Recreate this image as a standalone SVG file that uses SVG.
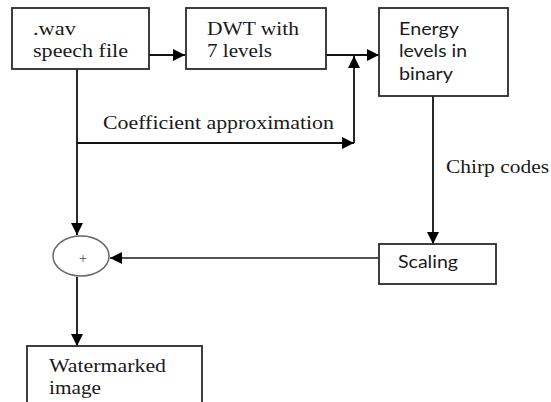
<svg xmlns="http://www.w3.org/2000/svg" width="551" height="402" viewBox="0 0 551 402">
  <style>
    .box { fill: #ffffff; stroke: #2a2a2a; stroke-width: 1.8; }
    .serif { font-family: "Liberation Serif", "Times New Roman", serif; font-size: 19.5px; fill: #1a1a1a; }
    .sans { font-family: Lato, "Liberation Sans", sans-serif; font-size: 18px; fill: #1a1a1a; }
    .wire { fill: none; stroke: #111111; stroke-width: 1.8; }
    .grey { fill: none; stroke: #555555; stroke-width: 1.8; }
  </style>
  <defs>
    <marker id="arrowBig" viewBox="0 0 10 10" refX="10" refY="5" markerWidth="12" markerHeight="12" markerUnits="userSpaceOnUse" orient="auto">
      <path d="M0,0 L10,5 L0,10 z" fill="#000000"/>
    </marker>
  </defs>

  <g id="connectors">
    <!-- wav -> DWT -->
    <path class="wire" d="M149,55 H185" marker-end="url(#arrowBig)"/>
    <!-- DWT -> energy -->
    <path class="wire" d="M326,55 H379" marker-end="url(#arrowBig)"/>
    <!-- coefficient approximation branch -->
    <path class="wire" d="M77,143 H354" marker-end="url(#arrowBig)"/>
    <path class="wire" d="M354,143 V56" marker-end="url(#arrowBig)"/>
    <!-- wav -> adder -->
    <path class="wire" d="M77,69 V235" marker-end="url(#arrowBig)"/>
    <!-- energy -> scaling -->
    <path class="wire" d="M433,96 V244" marker-end="url(#arrowBig)"/>
    <!-- scaling -> adder -->
    <path class="grey" d="M379,258 H110" marker-end="url(#arrowBig)"/>
    <!-- adder -> watermarked -->
    <path class="wire" d="M77,277 V346" marker-end="url(#arrowBig)"/>
    <text class="serif" x="103" y="129" textLength="231" lengthAdjust="spacingAndGlyphs">Coefficient approximation</text>
    <text class="serif" x="446" y="173" textLength="103" lengthAdjust="spacingAndGlyphs">Chirp codes</text>
  </g>

  <g id="wav">
    <rect class="box" x="12" y="8" width="137" height="61"/>
    <text class="serif" x="33" y="35" textLength="43" lengthAdjust="spacingAndGlyphs">.wav</text>
    <text class="serif" x="33" y="57" textLength="95" lengthAdjust="spacingAndGlyphs">speech  file</text>
  </g>

  <g id="dwt">
    <rect class="box" x="186" y="8" width="140" height="61"/>
    <text class="serif" x="207" y="35" textLength="92" lengthAdjust="spacingAndGlyphs">DWT with</text>
    <text class="serif" x="207" y="57" textLength="65" lengthAdjust="spacingAndGlyphs">7 levels</text>
  </g>

  <g id="energy">
    <rect class="box" x="379" y="8" width="129" height="88"/>
    <text class="sans" x="399" y="35" textLength="60" lengthAdjust="spacingAndGlyphs">Energy</text>
    <text class="sans" x="399" y="57" textLength="68" lengthAdjust="spacingAndGlyphs">levels in</text>
    <text class="sans" x="399" y="80" textLength="54" lengthAdjust="spacingAndGlyphs">binary</text>
  </g>

  <g id="scaling">
    <rect class="box" x="379" y="244" width="117" height="40"/>
    <text class="sans" x="398" y="268" textLength="60" lengthAdjust="spacingAndGlyphs">Scaling</text>
  </g>

  <g id="adder">
    <ellipse cx="81" cy="256" rx="28" ry="20" fill="#ffffff" stroke="#666666" stroke-width="1.5"/>
    <text x="83" y="263" text-anchor="middle" font-family="Liberation Serif, serif" font-size="14" fill="#444444">+</text>
  </g>

  <g id="watermarked">
    <rect class="box" x="27" y="346" width="175" height="70"/>
    <text class="serif" x="49" y="372" textLength="117" lengthAdjust="spacingAndGlyphs">Watermarked</text>
    <text class="serif" x="49" y="394" textLength="52" lengthAdjust="spacingAndGlyphs">image</text>
  </g>
</svg>
